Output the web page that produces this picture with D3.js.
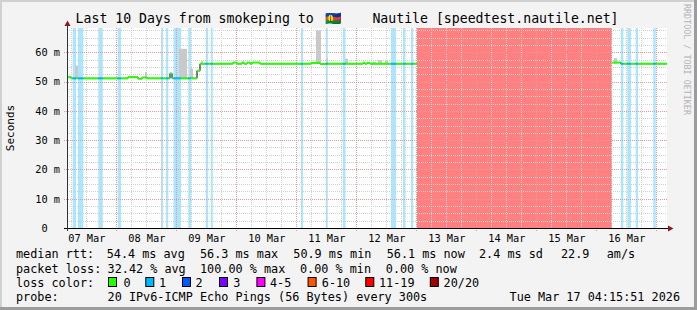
<!DOCTYPE html>
<html>
<head>
<meta charset="utf-8">
<script src="https://cdn.jsdelivr.net/npm/d3@7"></script>
<style>
  body { margin: 0; background: #fff; }
  text { font-family: "DejaVu Sans Mono", monospace; fill: #000; }
</style>
</head>
<body>
<div id="chart"></div>
<script>
var W = 697, H = 310;
var plot = {left: 67, right: 667, top: 28, bottom: 228};

// ---- data ----
var startTime = "2026-03-07 04:16";
var endTime = "2026-03-17 04:16";

// each step holds from its time until the next one
var stepTimes = [
  "2026-03-07 04:16", "2026-03-07 05:52", "2026-03-07 06:33", "2026-03-07 07:52", "2026-03-07 08:40",
  "2026-03-07 10:47", "2026-03-07 16:47", "2026-03-07 18:33", "2026-03-08 00:33", "2026-03-08 01:52",
  "2026-03-08 04:40", "2026-03-08 08:40", "2026-03-08 10:16", "2026-03-08 12:16", "2026-03-08 17:52",
  "2026-03-08 18:40", "2026-03-08 19:52", "2026-03-08 20:47", "2026-03-08 21:28", "2026-03-08 22:16",
  "2026-03-08 22:52", "2026-03-09 01:52", "2026-03-09 04:47", "2026-03-09 05:52", "2026-03-09 08:16",
  "2026-03-09 09:28", "2026-03-09 11:47", "2026-03-09 12:45", "2026-03-09 13:47", "2026-03-09 14:35",
  "2026-03-09 22:40", "2026-03-10 00:16", "2026-03-10 02:16", "2026-03-10 03:04", "2026-03-10 04:16",
  "2026-03-10 05:28", "2026-03-10 06:16", "2026-03-10 09:28", "2026-03-11 01:52", "2026-03-11 02:40",
  "2026-03-11 05:52", "2026-03-11 09:28", "2026-03-11 11:47", "2026-03-11 12:35", "2026-03-11 18:35",
  "2026-03-11 19:40", "2026-03-12 02:40", "2026-03-12 03:28", "2026-03-12 04:16", "2026-03-12 05:28",
  "2026-03-12 13:52", "2026-03-12 15:52", "2026-03-12 18:40", "2026-03-12 19:40", "2026-03-12 21:52",
  "2026-03-12 22:45", "2026-03-13 00:16", "2026-03-16 06:16", "2026-03-16 09:47", "2026-03-16 10:47",
  "2026-03-16 12:23", "2026-03-16 13:52", "2026-03-16 15:45", "2026-03-16 16:40", "2026-03-16 22:47",
  "2026-03-16 23:45"
];
var medianMs = [
  51.5, 51.1, 51.1, 51.1, 51.1,
  51.1, 51.1, 51.1, 51.1, 51.1,
  51.5, 51.0, 51.4, 51.1, 51.1,
  51.1, 51.1, 51.1, 52.8, 51.1,
  51.1, 51.1, 51.1, 51.1, 53.7,
  56.1, 56.1, 56.1, 56.1, 56.1,
  56.5, 56.1, 56.5, 56.1, 56.5,
  56.1, 56.5, 56.1, 56.1, 56.1,
  56.4, 56.0, 56.1, 56.1, 56.1,
  56.1, 56.4, 56.1, 56.4, 56.1,
  56.1, 56.1, 56.1, 56.1, 56.1,
  56.1, null, 56.5, 56.1, 56.1,
  56.1, 56.1, 56.1, 56.1, 56.1,
  56.1
];
var lossCount = [
  0, 0, 1, 0, 1,
  0, 1, 0, 1, 0,
  0, 0, 0, 0, 1,
  0, 1, 0, 0, 0,
  1, 0, 1, 0, 0,
  0, 1, 0, 1, 0,
  0, 0, 0, 0, 0,
  0, 0, 0, 1, 0,
  0, 0, 1, 0, 1,
  0, 0, 0, 0, 0,
  1, 0, 1, 0, 1,
  0, 20, 0, 1, 0,
  1, 0, 1, 0, 1,
  0
];

// smoke (spread of the pings) where it shows above the median
var smokeStart = ["2026-03-07 07:28", "2026-03-08 11:28", "2026-03-09 01:04", "2026-03-09 05:28",
  "2026-03-09 09:52", "2026-03-11 07:52", "2026-03-11 11:52", "2026-03-11 19:28",
  "2026-03-12 06:16", "2026-03-12 08:40", "2026-03-12 11:28", "2026-03-16 07:04"];
var smokeEnd = ["2026-03-07 08:40", "2026-03-08 12:16", "2026-03-09 04:16", "2026-03-09 06:40",
  "2026-03-09 10:40", "2026-03-11 09:52", "2026-03-11 12:40", "2026-03-11 20:40",
  "2026-03-12 07:52", "2026-03-12 10:16", "2026-03-12 12:40", "2026-03-16 08:16"];
var smokeLo = [51.1, 51.1, 51.1, 51.1, 56.1, 56.1, 56.1, 56.1, 56.1, 56.1, 56.1, 56.1];
var smokeHi = [55.5, 53.3, 61.2, 54.4, 57.0, 67.5, 58.0, 57.8, 56.8, 57.3, 57.0, 58.0];

var yTicks = [0, 10, 20, 30, 40, 50, 60];
var lossLabels = ["0", "1", "2", "3", "4-5", "6-10", "11-19", "20/20"];
var rttStats = ["54.4 ms avg", "56.3 ms max", "50.9 ms min", "56.1 ms now", "2.4 ms sd", "22.9", "am/s"];
var lossStats = ["32.42 % avg", "100.00 % max", "0.00 % min", "0.00 % now"];
var probeText = "20 IPv6-ICMP Echo Pings (56 Bytes) every 300s";
var stampText = "Tue Mar 17 04:15:51 2026";

// ---- styles ----
var lossColors = ["#26ff00", "#00b8ff", "#0059ff", "#7e00ff", "#ff00ff", "#ff5500", "#ff0000", "#a10000"];
function lineColor(l) {
  if (l == 0) return lossColors[0];
  if (l == 1) return lossColors[1];
  if (l == 2) return lossColors[2];
  if (l == 3) return lossColors[3];
  if (l <= 5) return lossColors[4];
  if (l <= 10) return lossColors[5];
  if (l <= 19) return lossColors[6];
  return lossColors[7];
}
function bandColor(l) {
  if (l >= 20) return "#ff8080";
  return "#aae6ff";
}

var parseT = d3.utcParse("%Y-%m-%d %H:%M");
var t0 = parseT(startTime), t1 = parseT(endTime);

var svg = d3.select("#chart").append("svg")
    .attr("width", W).attr("height", H)
    .style("display", "block");

// canvas + frame
svg.append("rect").attr("width", W).attr("height", H).attr("fill", "#f3f3f3");
svg.append("rect").attr("x", 0).attr("y", 0).attr("width", W).attr("height", 2).attr("fill", "#d0d0d0");
svg.append("rect").attr("x", 0).attr("y", 0).attr("width", 2).attr("height", H).attr("fill", "#d0d0d0");
svg.append("rect").attr("x", W - 3).attr("y", 0).attr("width", 3).attr("height", H).attr("fill", "#9c9c9c");
svg.append("rect").attr("x", 0).attr("y", H - 3).attr("width", W).attr("height", 3).attr("fill", "#9c9c9c");

svg.append("rect")
    .attr("x", plot.left).attr("y", plot.top)
    .attr("width", plot.right - plot.left).attr("height", plot.bottom - plot.top)
    .attr("fill", "#fff");

var xScale = d3.scaleUtc().domain([t0, t1]).range([plot.left, plot.right]);
var yScale = d3.scaleLinear().domain([0, 68.3]).range([plot.bottom, plot.top]);

var steps = stepTimes.map(function(t, i) {
  return {
    a: parseT(t),
    b: parseT(i + 1 < stepTimes.length ? stepTimes[i + 1] : endTime),
    v: medianMs[i],
    loss: lossCount[i]
  };
});

// loss bands behind everything
svg.append("g").selectAll("rect")
    .data(steps.filter(function(d) { return d.loss > 0; }))
    .enter().append("rect")
    .attr("x", function(d) { return xScale(d.a); })
    .attr("width", function(d) { return xScale(d.b) - xScale(d.a); })
    .attr("y", plot.top)
    .attr("height", plot.bottom - plot.top)
    .attr("fill", function(d) { return bandColor(d.loss); });

// grid
var grid = svg.append("g").attr("shape-rendering", "crispEdges");
var minorY = d3.range(2.5, 68.3, 2.5).filter(function(v) { return v % 10 != 0; });
grid.selectAll(".hmin").data(minorY).enter().append("line")
    .attr("x1", plot.left).attr("x2", plot.right)
    .attr("y1", function(d) { return Math.round(yScale(d)) + 0.5; })
    .attr("y2", function(d) { return Math.round(yScale(d)) + 0.5; })
    .attr("stroke", "#cfcfcf").attr("stroke-dasharray", "1,1");
var sixHours = d3.utcHour.every(6).range(t0, t1).filter(function(d) { return d.getUTCHours() != 0; });
grid.selectAll(".vmin").data(sixHours).enter().append("line")
    .attr("y1", plot.top).attr("y2", plot.bottom)
    .attr("x1", function(d) { return Math.round(xScale(d)) + 0.5; })
    .attr("x2", function(d) { return Math.round(xScale(d)) + 0.5; })
    .attr("stroke", "#cfcfcf").attr("stroke-dasharray", "1,1");
grid.selectAll(".hmaj").data(yTicks.slice(1)).enter().append("line")
    .attr("x1", plot.left - 3).attr("x2", plot.right)
    .attr("y1", function(d) { return Math.round(yScale(d)) + 0.5; })
    .attr("y2", function(d) { return Math.round(yScale(d)) + 0.5; })
    .attr("stroke", "#e39a9a").attr("stroke-dasharray", "1,1");
var days = d3.utcDay.range(t0, t1);
grid.selectAll(".vmaj").data(days).enter().append("line")
    .attr("y1", plot.top).attr("y2", plot.bottom + 3)
    .attr("x1", function(d) { return Math.round(xScale(d)) + 0.5; })
    .attr("x2", function(d) { return Math.round(xScale(d)) + 0.5; })
    .attr("stroke", "#e39a9a").attr("stroke-dasharray", "1,1");

// smoke
svg.append("g").selectAll("rect")
    .data(smokeStart)
    .enter().append("rect")
    .attr("x", function(d) { return xScale(parseT(d)); })
    .attr("width", function(d, i) { return xScale(parseT(smokeEnd[i])) - xScale(parseT(d)); })
    .attr("y", function(d, i) { return yScale(smokeHi[i]); })
    .attr("height", function(d, i) { return yScale(smokeLo[i]) - yScale(smokeHi[i]); })
    .attr("fill", "#c9c9c9");

// median: thin black step path, then loss coloured segments on top
var pts = [];
steps.forEach(function(d) {
  pts.push({t: d.a, v: d.v});
  pts.push({t: d.b, v: d.v});
});
svg.append("path")
    .datum(pts)
    .attr("fill", "none")
    .attr("stroke", "#000")
    .attr("stroke-width", 1)
    .attr("d", d3.line()
        .defined(function(d) { return d.v != null; })
        .x(function(d) { return xScale(d.t); })
        .y(function(d) { return yScale(d.v); }));

svg.append("g").selectAll("line")
    .data(steps.filter(function(d) { return d.v != null; }))
    .enter().append("line")
    .attr("x1", function(d) { return xScale(d.a); })
    .attr("x2", function(d) { return xScale(d.b); })
    .attr("y1", function(d) { return yScale(d.v); })
    .attr("y2", function(d) { return yScale(d.v); })
    .attr("stroke", function(d) { return lineColor(d.loss); })
    .attr("stroke-width", 2);

// y axis
var yAxis = svg.append("g")
    .attr("transform", "translate(" + plot.left + ",0)")
    .call(d3.axisLeft(yScale).tickValues(yTicks).tickSize(0).tickPadding(7)
        .tickFormat(function(d) { return d ? d + " m" : "0"; }));
yAxis.select(".domain").remove();
yAxis.selectAll("text")
    .style("font-size", "10.3px")
    .attr("dx", function(d) { return d ? 0 : -12.4; });

// x axis
var noons = d3.utcHour.range(t0, t1).filter(function(d) { return d.getUTCHours() == 12; });
var xAxis = svg.append("g")
    .attr("transform", "translate(0," + plot.bottom + ")")
    .call(d3.axisBottom(xScale).tickValues(noons).tickSize(0).tickPadding(6.5)
        .tickFormat(d3.utcFormat("%d %b")));
xAxis.select(".domain").remove();
xAxis.selectAll("text").style("font-size", "10.3px");

// axis lines with arrows
svg.append("line")
    .attr("x1", plot.left - 3).attr("x2", plot.right + 2)
    .attr("y1", plot.bottom + 0.5).attr("y2", plot.bottom + 0.5)
    .attr("stroke", "#000").attr("shape-rendering", "crispEdges");
svg.append("line")
    .attr("x1", plot.left + 0.5).attr("x2", plot.left + 0.5)
    .attr("y1", plot.bottom + 3).attr("y2", plot.top - 3)
    .attr("stroke", "#333").attr("shape-rendering", "crispEdges");
svg.append("path")
    .attr("d", "M" + (plot.right + 1) + "," + (plot.bottom - 2.5) + "L" + (plot.right + 6.5) + "," + (plot.bottom + 0.5) +
        "L" + (plot.right + 1) + "," + (plot.bottom + 3.5) + "Z")
    .attr("fill", "#8b1a1a");
svg.append("path")
    .attr("d", "M" + (plot.left - 2.5) + "," + (plot.top - 2) + "L" + (plot.left + 0.5) + "," + (plot.top - 7.5) +
        "L" + (plot.left + 3.5) + "," + (plot.top - 2) + "Z")
    .attr("fill", "#8b1a1a");

// title
var title = svg.append("text").attr("y", 23).style("font-size", "13.2px");
title.append("tspan").attr("x", 75.6).text("Last 10 Days from smokeping to ");
title.append("tspan").attr("x", 325).text("\u{1F1F3}\u{1F1E8}");
title.append("tspan").attr("x", 372.4).text("Nautile [speedtest.nautile.net]");

// unit label
svg.append("text")
    .attr("transform", "translate(14,128) rotate(-90)")
    .attr("text-anchor", "middle")
    .style("font-size", "11px")
    .text("Seconds");

// watermark
svg.append("text")
    .attr("transform", "translate(684,4) rotate(90)")
    .style("font-size", "8.4px")
    .style("fill", "#b4b4b4")
    .text("RRDTOOL / TOBI OETIKER");

// legend
var rows = [258, 272.5, 287, 301];
var legend = svg.append("g").style("font-size", "11.8px");
function put(x, y, s, anchor) {
  legend.append("text").attr("x", x).attr("y", y)
      .attr("text-anchor", anchor || "start").text(s);
}
put(16, rows[0], "median rtt:");
[106.7, 200, 293.3, 386.7, 479, 561, 606.7].forEach(function(x, i) { put(x, rows[0], rttStats[i]); });
put(16, rows[1], "packet loss:");
[107.6, 200, 300, 385.8].forEach(function(x, i) { put(x, rows[1], lossStats[i]); });
put(16, rows[2], "loss color:");
var boxX = [108, 145.3, 182, 219, 256.4, 307.6, 365.3, 429.8];
var labX = [123.6, 159, 195.6, 233.3, 270, 321.8, 379, 443.6];
lossLabels.forEach(function(s, i) {
  legend.append("rect")
      .attr("x", boxX[i] + 0.5).attr("y", rows[2] - 9.5)
      .attr("width", 8).attr("height", 9)
      .attr("fill", lossColors[i]).attr("stroke", "#000");
  put(labX[i], rows[2], s);
});
put(16, rows[3], "probe:");
put(107.6, rows[3], probeText);
put(680, rows[3], stampText, "end");
</script>
</body>
</html>
